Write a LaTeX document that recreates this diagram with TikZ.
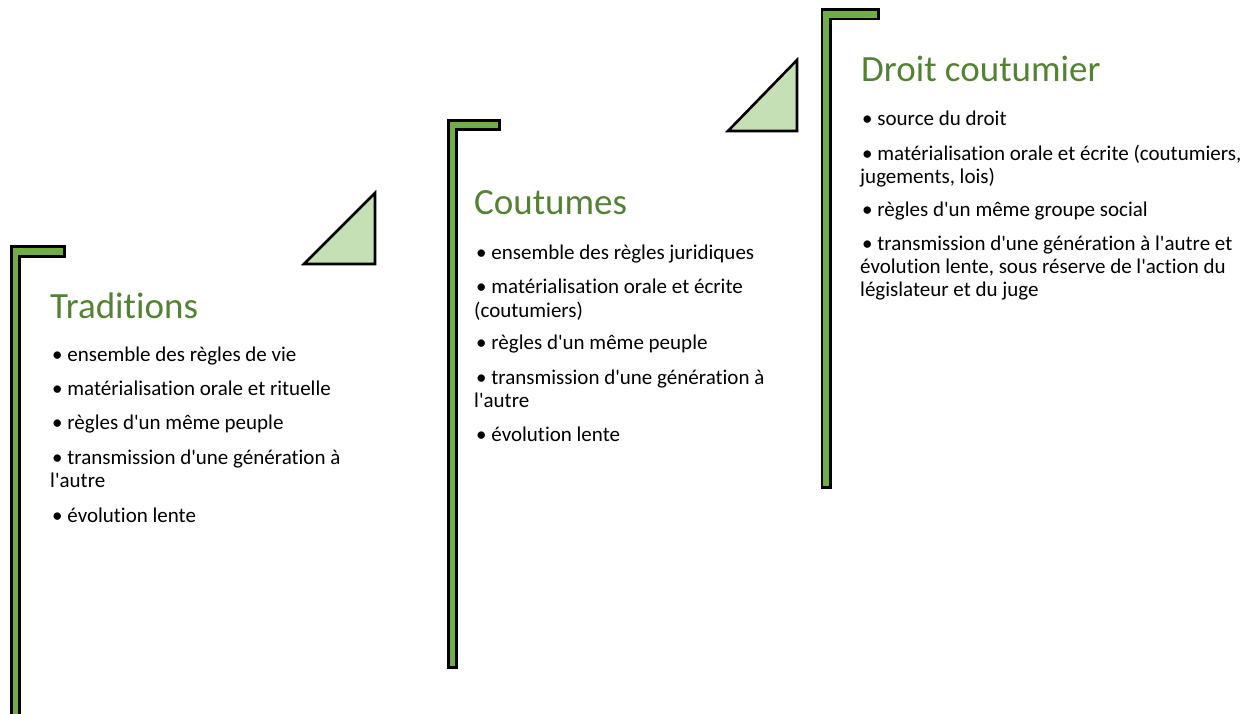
\documentclass[tikz,border=0pt]{standalone}
\usepackage{fontspec}
\setmainfont[Ligatures={TeXOff,NoCommon}]{Carlito}
\definecolor{flaggreen}{HTML}{70AD47}
\definecolor{titlegreen}{HTML}{548235}
\definecolor{trigreen}{HTML}{C5E0B4}
\begin{document}
\begin{tikzpicture}[x=1pt,y=-1pt,
  flag/.style={draw=black,line width=2.4pt,fill=flaggreen,line join=miter},
  tri/.style={draw=black,line width=2.6pt,fill=trigreen,line join=miter},
  title/.style={anchor=base west,inner sep=0pt,text=titlegreen,font=\fontsize{37}{44}\selectfont},
  item/.style={anchor=base west,inner sep=0pt,text=black,font=\fontsize{21}{25}\selectfont}]
\useasboundingbox (0,0) rectangle (1259,714);
% flags
\draw[flag] (11.5,246.5) -- (64.5,246.5) -- (64.5,256.5) -- (19.5,256.5) -- (19.5,730) -- (11.5,730) -- cycle;
\draw[flag] (448.5,120.5) -- (499.5,120.5) -- (499.5,129.5) -- (456.5,129.5) -- (456.5,667.5) -- (448.5,667.5) -- cycle;
\draw[flag] (822,9.5) -- (878.5,9.5) -- (878.5,19) -- (830.5,19) -- (830.5,487.5) -- (822,487.5) -- cycle;
% triangles
\draw[tri] (304,264) -- (375,193) -- (375,264) -- cycle;
\draw[tri] (728,131) -- (797,60) -- (797,131) -- cycle;
% column 1
\node[title] (t1) at (50,318) {Traditions};
\node[item] (a1) at (52,361) {\textbullet\ ensemble des règles de vie};
\node[item] (a2) at (52,395) {\textbullet\ matérialisation orale et rituelle};
\node[item] (a3) at (52,429) {\textbullet\ règles d'un même peuple};
\node[item] (a4) at (52,464) {\textbullet\ transmission d'une génération à};
\node[item] (a4b) at (50,487) {l'autre};
\node[item] (a5) at (52,522) {\textbullet\ évolution lente};
% column 2
\node[title] (t2) at (474,215) {Coutumes};
\node[item] (b1) at (476,260) {\textbullet\ ensemble des règles juridiques};
\node[item] (b2) at (476,294) {\textbullet\ matérialisation orale et écrite};
\node[item] (b2b) at (474,317) {(coutumiers)};
\node[item] (b3) at (476,349) {\textbullet\ règles d'un même peuple};
\node[item] (b4) at (476,384) {\textbullet\ transmission d'une génération à};
\node[item] (b4b) at (474,407) {l'autre};
\node[item] (b5) at (476,441) {\textbullet\ évolution lente};
% column 3
\node[title] (t3) at (861,82) {Droit coutumier};
\node[item] (c1) at (862,126) {\textbullet\ source du droit};
\node[item] (c2) at (862,161) {\textbullet\ matérialisation orale et écrite (coutumiers,};
\node[item] (c2b) at (860,184) {jugements, lois)};
\node[item] (c3) at (862,217) {\textbullet\ règles d'un même groupe social};
\node[item] (c4) at (862,251) {\textbullet\ transmission d'une génération à l'autre et};
\node[item] (c4b) at (860,274) {évolution lente, sous réserve de l'action du};
\node[item] (c4c) at (860,297) {législateur et du juge};
\end{tikzpicture}
\end{document}
